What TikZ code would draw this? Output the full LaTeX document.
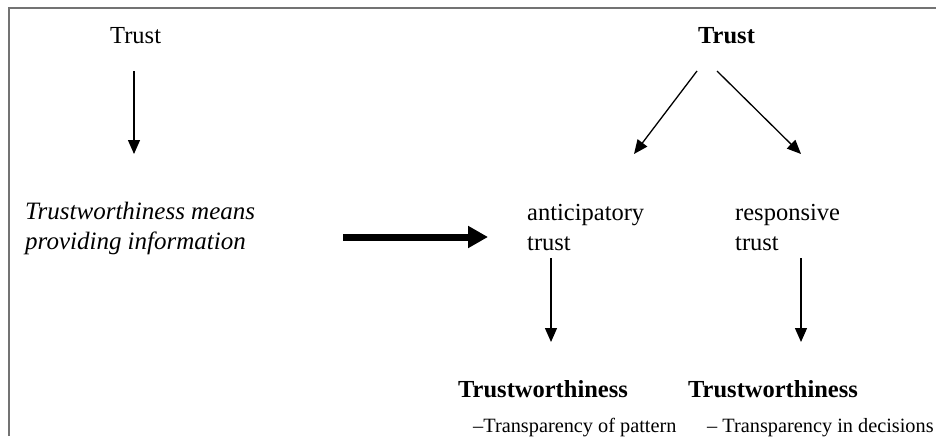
\documentclass[tikz,border=0pt]{standalone}
\usepackage{fontspec}
\setmainfont{Liberation Serif}
\usetikzlibrary{arrows.meta,positioning}

\tikzset{
  lbl/.style={inner sep=0pt, anchor=base west, align=left,
    font=\fontsize{24.5}{30}\selectfont},
  boldlbl/.style={lbl, font=\fontsize{24.5}{30}\selectfont\bfseries},
  sublbl/.style={inner sep=0pt, anchor=base west,
    font=\fontsize{20.3}{24}\selectfont},
  arr/.style={line width=1.3pt, -{Triangle[length=14pt,width=12pt]}},
  bigarr/.style={line width=7pt, -{Triangle[length=20pt,width=21pt]}},
}

\begin{document}
\begin{tikzpicture}[x=1pt,y=-1pt]
    \useasboundingbox (0,0) rectangle (936,436);

    % Frame (cut off at right and bottom)
    \draw[black!55, line width=2pt] (8.5,436) -- (8.5,8.5) -- (936,8.5);

    % Left side
    \node[lbl] (trustL) at (110,44) {Trust};
    \node[lbl, font=\fontsize{25}{30}\selectfont\itshape] (info) at (25,249)
        {Trustworthiness means\\providing information};

    % Right side
    \node[boldlbl] (trustR) at (698,44) {Trust};
    \node[lbl] (antic) at (527,250) {anticipatory\\trust};
    \node[lbl] (resp) at (735,250) {responsive\\trust};
    \node[boldlbl] (twL) at (458,397) {Trustworthiness};
    \node[boldlbl] (twR) at (688,397) {Trustworthiness};
    \node[sublbl] (tpL) at (473,432) {--Transparency of pattern};
    \node[sublbl] (tpR) at (707,432) {-- Transparency in decisions};

    % Arrow end points
    \coordinate (infoTop) at (134,154);
    \coordinate (anticTop) at (634,154);
    \coordinate (respTop) at (801,154);
    \coordinate (twLTop) at (551,342);
    \coordinate (twRTop) at (801,342);
    \coordinate (shiftL) at (343,237);
    \coordinate (shiftR) at (488,237);

    % Arrows
    \draw[arr] (134,71) -- (infoTop);
    \draw[arr] (697,71) -- (anticTop);
    \draw[arr] (717,71) -- (respTop);
    \draw[arr] (551,258) -- (twLTop);
    \draw[arr] (801,258) -- (twRTop);
    \draw[bigarr] (shiftL) -- (shiftR);
\end{tikzpicture}
\end{document}
